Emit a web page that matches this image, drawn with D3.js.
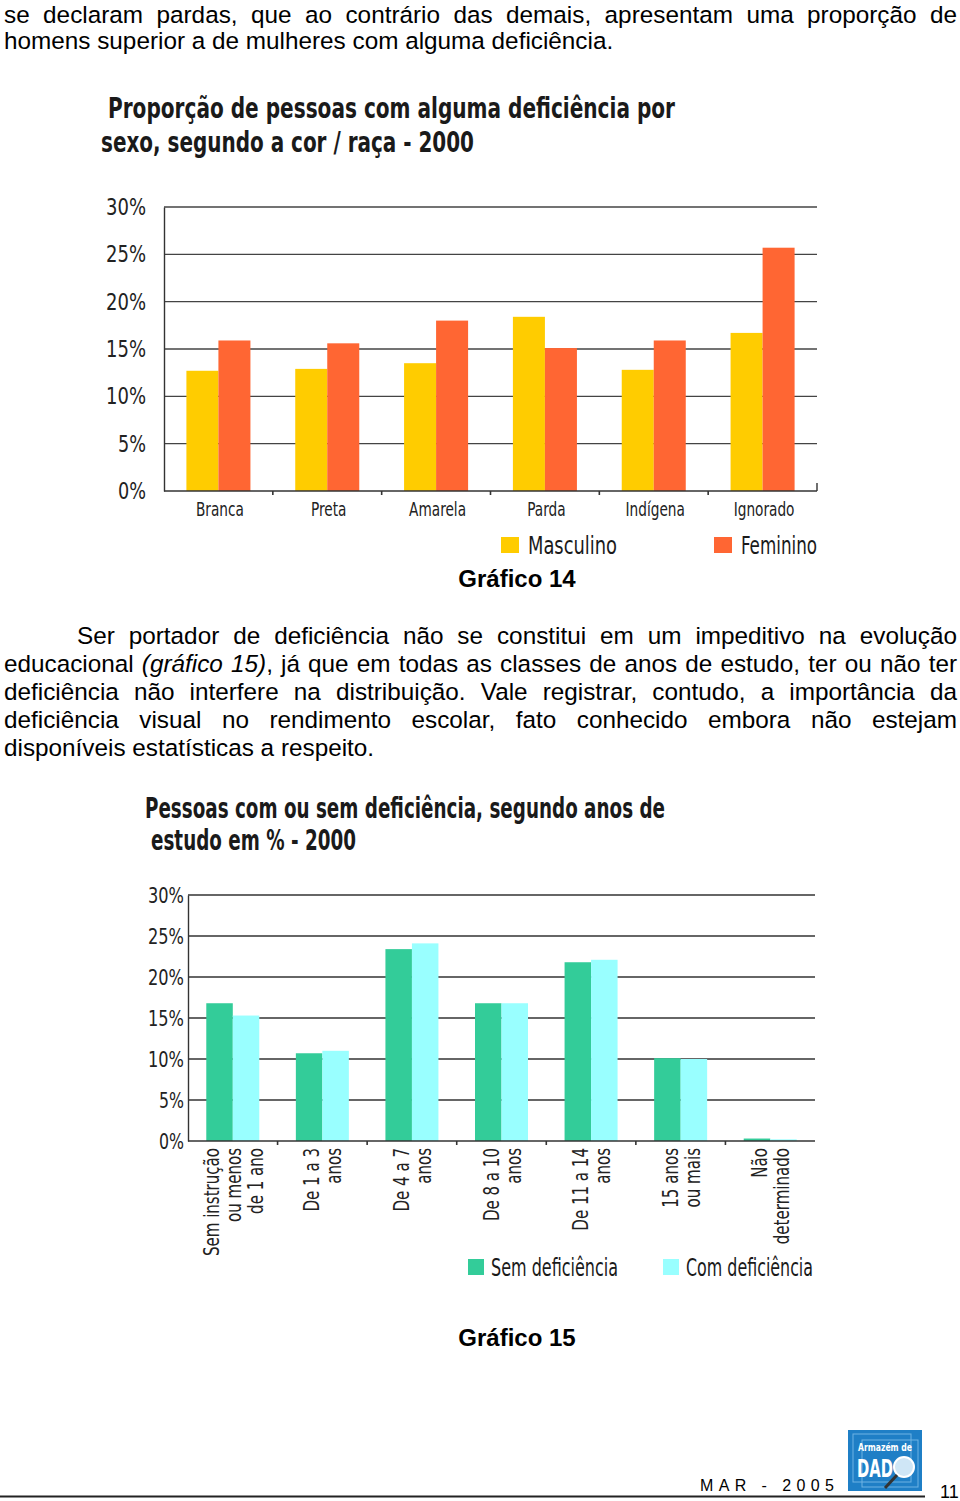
<!DOCTYPE html>
<html><head><meta charset="utf-8">
<script src="https://cdn.jsdelivr.net/npm/d3@7"></script>
<style>
html,body{margin:0;padding:0;background:#fff;}
svg{display:block;}
</style></head>
<body>
<script>
// ---------- DATA ----------
const racas = ["Branca","Preta","Amarela","Parda","Indígena","Ignorado"];
const sexos = ["Masculino","Feminino"];
const masculino = [12.7, 12.9, 13.5, 18.4, 12.8, 16.7];
const feminino  = [15.9, 15.6, 18.0, 15.1, 15.9, 25.7];

const estudo = [
  ["Sem instrução","ou menos","de 1 ano"],
  ["De 1 a 3","anos"],
  ["De 4 a 7","anos"],
  ["De 8 a 10","anos"],
  ["De 11 a 14","anos"],
  ["15 anos","ou mais"],
  ["Não","determinado"]
];
const grupos = ["Sem deficiência","Com deficiência"];
const semDef = [16.8, 10.7, 23.4, 16.8, 21.8, 10.1, 0.3];
const comDef = [15.3, 11.0, 24.1, 16.8, 22.1, 10.0, 0.2];

const yTicks = [0,5,10,15,20,25,30];
const yTickLabels = ["0%","5%","10%","15%","20%","25%","30%"];

// '*' toggles italic
const texto1 = [
  "se declaram pardas, que ao contrário das demais, apresentam uma proporção de",
  "homens superior a de mulheres com alguma deficiência."
];
const texto2 = [
  "Ser portador de deficiência não se constitui em um impeditivo na evolução",
  "educacional *(gráfico 15)*, já que em todas as classes de anos de estudo, ter ou não ter",
  "deficiência não interfere na distribuição. Vale registrar, contudo, a importância da",
  "deficiência visual no rendimento escolar, fato conhecido embora não estejam",
  "disponíveis estatísticas a respeito."
];

// ---------- SETUP ----------
const W = 960, H = 1501;
const svg = d3.select("body").append("svg").attr("width", W).attr("height", H);
const BODY = "'Liberation Sans', Arial, sans-serif";
const NARROW = "'Liberation Sans Narrow', 'DejaVu Sans Condensed', sans-serif";

function condense(sel, f) {
  sel.each(function() {
    const l = this.getComputedTextLength();
    d3.select(this).attr("textLength", l * f).attr("lengthAdjust", "spacingAndGlyphs");
  });
}

let italicState = false;
function justifyLine(str, x0, x1, y, justify, size) {
  const raw = str.split(" ");
  const words = [];
  raw.forEach(w => {
    const parts = w.split("*");
    parts.forEach((p, k) => {
      if (k > 0) italicState = !italicState;
      if (p === "") return;
      const attach = k > 0 && parts.slice(0, k).some(q => q !== "");
      words.push({w: p, italic: italicState, attach});
    });
  });
  const g = svg.append("g");
  const nodes = words.map(d => {
    const t = g.append("text").attr("y", y).attr("font-family", BODY)
      .attr("font-size", size).attr("fill", "#000")
      .attr("font-style", d.italic ? "italic" : "normal").text(d.w);
    return {t, len: t.node().getComputedTextLength(), attach: d.attach};
  });
  let gaps = 0; nodes.forEach((n,i)=>{ if(i>0 && !n.attach) gaps++; });
  const total = d3.sum(nodes, n => n.len);
  const spaceW = size * 0.278;
  const gap = justify ? (x1 - x0 - total) / gaps : spaceW;
  let x = x0;
  nodes.forEach((n,i) => {
    if (i > 0) x += n.attach ? 0 : gap;
    n.t.attr("x", x);
    x += n.len;
  });
}

const FS = 24.3;
justifyLine(texto1[0], 4, 957, 23, true, FS);
justifyLine(texto1[1], 4, 957, 49, false, FS);
texto2.forEach((l, i) => {
  justifyLine(l, i === 0 ? 77 : 4, 957, 644 + i*28, i < texto2.length - 1, FS);
});

// ---------- CHART 1 ----------
{
  const x0 = d3.scaleBand().domain(racas).range([164, 817]);
  const x1 = d3.scaleBand().domain(sexos).range([0, x0.bandwidth()]).paddingOuter(0.7);
  const y = d3.scaleLinear().domain([0, 30]).range([491, 207]);
  const color = d3.scaleOrdinal().domain(sexos).range(["#FFCC00", "#FF6633"]);
  const g = svg.append("g");

  g.append("text").attr("x", 108).attr("y", 118).attr("font-family", NARROW).attr("font-weight", "bold")
    .attr("font-size", 29).attr("fill", "#1a1a1a").attr("textLength", 567).attr("lengthAdjust","spacingAndGlyphs")
    .text("Proporção de pessoas com alguma deficiência por");
  g.append("text").attr("x", 101).attr("y", 152).attr("font-family", NARROW).attr("font-weight", "bold")
    .attr("font-size", 29).attr("fill", "#1a1a1a").attr("textLength", 373).attr("lengthAdjust","spacingAndGlyphs")
    .text("sexo, segundo a cor / raça - 2000");

  g.append("g").selectAll("line").data(yTicks.filter(d => d > 0)).join("line")
    .attr("x1", 164).attr("x2", 817).attr("y1", d => y(d)).attr("y2", d => y(d))
    .attr("stroke", "#444").attr("stroke-width", 1.4);

  const rows = racas.map((r, i) => ({r, vals: [masculino[i], feminino[i]]}));
  g.append("g").selectAll("g").data(rows).join("g")
    .attr("transform", d => `translate(${x0(d.r)},0)`)
    .selectAll("rect").data(d => d.vals.map((v, k) => ({s: sexos[k], v}))).join("rect")
    .attr("x", d => x1(d.s)).attr("width", x1.bandwidth())
    .attr("y", d => y(d.v)).attr("height", d => y(0) - y(d.v))
    .attr("fill", d => color(d.s));

  const yAxis = d3.axisLeft(y).tickValues(yTicks).tickFormat((d,i) => yTickLabels[i]).tickSize(0).tickPadding(18);
  const ya = g.append("g").attr("transform", "translate(164,0)").call(yAxis);
  ya.select(".domain").attr("stroke", "#333").attr("stroke-width", 1.4);
  ya.selectAll("text").attr("font-family", NARROW).attr("font-size", 23).attr("fill", "#222")
    .attr("textLength", function(d){ return d >= 10 ? 40 : 28; }).attr("lengthAdjust","spacingAndGlyphs");

  g.append("line").attr("x1", 164).attr("x2", 817).attr("y1", 491).attr("y2", 491).attr("stroke", "#333").attr("stroke-width", 1.4);
  g.append("line").attr("x1", 817).attr("x2", 817).attr("y1", 483).attr("y2", 491).attr("stroke", "#333").attr("stroke-width", 1.4);
  g.append("g").selectAll("line").data(racas.slice(1)).join("line")
    .attr("x1", d => x0(d)).attr("x2", d => x0(d)).attr("y1", 491).attr("y2", 495)
    .attr("stroke", "#333").attr("stroke-width", 1.6);
  const xl = g.append("g").selectAll("text").data(racas).join("text")
    .attr("x", d => x0(d) + x0.bandwidth()/2 + 1.5).attr("y", 516).attr("text-anchor", "middle")
    .attr("font-family", NARROW).attr("font-size", 19).attr("fill", "#222").text(d => d);
  condense(xl, 0.8);

  const leg = [{s: "Masculino", x: 501, tx: 528, w: 89}, {s: "Feminino", x: 714, tx: 741, w: 76}];
  leg.forEach(l => {
    g.append("rect").attr("x", l.x).attr("y", 537).attr("width", 18).attr("height", 16).attr("fill", color(l.s));
    g.append("text").attr("x", l.tx).attr("y", 554).attr("font-family", NARROW).attr("font-size", 24)
      .attr("fill", "#1a1a1a").attr("textLength", l.w).attr("lengthAdjust","spacingAndGlyphs").text(l.s);
  });

  g.append("text").attr("x", 517).attr("y", 587).attr("text-anchor", "middle").attr("font-family", BODY)
    .attr("font-weight", "bold").attr("font-size", 24).attr("fill", "#000").text("Gráfico 14");
}

// ---------- CHART 2 ----------
{
  const keys = estudo.map(d => d.join(" "));
  const x0 = d3.scaleBand().domain(keys).range([188, 815]);
  const x1 = d3.scaleBand().domain(grupos).range([0, x0.bandwidth()]).paddingOuter(0.69);
  const y = d3.scaleLinear().domain([0, 30]).range([1141, 895]);
  const color = d3.scaleOrdinal().domain(grupos).range(["#33CC99", "#99FFFF"]);
  const g = svg.append("g");

  g.append("text").attr("x", 145).attr("y", 818).attr("font-family", NARROW).attr("font-weight", "bold")
    .attr("font-size", 28).attr("fill", "#1a1a1a").attr("textLength", 520).attr("lengthAdjust","spacingAndGlyphs")
    .text("Pessoas com ou sem deficiência, segundo anos de");
  g.append("text").attr("x", 151).attr("y", 850).attr("font-family", NARROW).attr("font-weight", "bold")
    .attr("font-size", 28).attr("fill", "#1a1a1a").attr("textLength", 205).attr("lengthAdjust","spacingAndGlyphs")
    .text("estudo em % - 2000");

  g.append("g").selectAll("line").data(yTicks.filter(d => d > 0)).join("line")
    .attr("x1", 188).attr("x2", 815).attr("y1", d => y(d)).attr("y2", d => y(d))
    .attr("stroke", "#333").attr("stroke-width", 1.6);

  const rows = keys.map((k, i) => ({k, vals: [semDef[i], comDef[i]]}));
  g.append("g").selectAll("g").data(rows).join("g")
    .attr("transform", d => `translate(${x0(d.k)},0)`)
    .selectAll("rect").data(d => d.vals.map((v, j) => ({s: grupos[j], v}))).join("rect")
    .attr("x", d => x1(d.s)).attr("width", x1.bandwidth())
    .attr("y", d => y(d.v)).attr("height", d => y(0) - y(d.v))
    .attr("fill", d => color(d.s));

  const yAxis = d3.axisLeft(y).tickValues(yTicks).tickFormat((d,i) => yTickLabels[i]).tickSize(0).tickPadding(4);
  const ya = g.append("g").attr("transform", "translate(188,0)").call(yAxis);
  ya.select(".domain").attr("stroke", "#333").attr("stroke-width", 1.4);
  ya.selectAll("text").attr("font-family", NARROW).attr("font-size", 22).attr("fill", "#222")
    .attr("textLength", function(d){ return d >= 10 ? 36 : 25; }).attr("lengthAdjust","spacingAndGlyphs");

  g.append("line").attr("x1", 188).attr("x2", 815).attr("y1", 1141).attr("y2", 1141).attr("stroke", "#333").attr("stroke-width", 1.4);
  g.append("g").selectAll("line").data(keys.slice(1)).join("line")
    .attr("x1", d => x0(d)).attr("x2", d => x0(d)).attr("y1", 1141).attr("y2", 1145)
    .attr("stroke", "#333").attr("stroke-width", 1.6);

  estudo.forEach((lines, i) => {
    const cx = x0(keys[i]) + x0.bandwidth()/2;
    const n = lines.length;
    const t = g.append("text").attr("transform", `translate(${cx},1148) rotate(-90)`)
      .attr("text-anchor", "end").attr("font-family", NARROW).attr("font-size", 22).attr("fill", "#222");
    lines.forEach((ln, j) => {
      t.append("tspan").attr("x", 0).attr("y", (j - (n-1)/2) * 22 + 8).text(ln);
    });
    condense(t.selectAll("tspan"), 0.76);
  });

  const leg = [{s: "Sem deficiência", x: 468, tx: 491, w: 127}, {s: "Com deficiência", x: 663, tx: 686, w: 127}];
  leg.forEach(l => {
    g.append("rect").attr("x", l.x).attr("y", 1259).attr("width", 16).attr("height", 16).attr("fill", color(l.s));
    g.append("text").attr("x", l.tx).attr("y", 1276).attr("font-family", NARROW).attr("font-size", 24)
      .attr("fill", "#1a1a1a").attr("textLength", l.w).attr("lengthAdjust","spacingAndGlyphs").text(l.s);
  });

  g.append("text").attr("x", 517).attr("y", 1346).attr("text-anchor", "middle").attr("font-family", BODY)
    .attr("font-weight", "bold").attr("font-size", 24).attr("fill", "#000").text("Gráfico 15");
}

// ---------- FOOTER ----------
{
  const g = svg.append("g");
  g.append("line").attr("x1", 0).attr("x2", 925).attr("y1", 1496.5).attr("y2", 1496.5).attr("stroke", "#222").attr("stroke-width", 2);
  g.append("text").attr("x", 700).attr("y", 1491).attr("font-family", BODY).attr("font-size", 16)
    .attr("letter-spacing", 5.4).attr("fill", "#000").text("MAR - 2005");
  g.append("text").attr("x", 940).attr("y", 1498).attr("font-family", BODY).attr("font-size", 18)
    .attr("fill", "#000").text("11");
  g.append("rect").attr("x", 848).attr("y", 1430).attr("width", 74).attr("height", 61).attr("fill", "#1f7fc6");
  g.append("rect").attr("x", 853).attr("y", 1434).attr("width", 58).attr("height", 48).attr("fill", "none").attr("stroke", "#6fb3e3").attr("stroke-width", 1);
  g.append("rect").attr("x", 862).attr("y", 1440).attr("width", 56).attr("height", 47).attr("fill", "none").attr("stroke", "#6fb3e3").attr("stroke-width", 1);
  g.append("text").attr("x", 858).attr("y", 1451).attr("font-family", NARROW).attr("font-weight", "bold").attr("font-size", 10)
    .attr("fill", "#fff").attr("textLength", 54).attr("lengthAdjust","spacingAndGlyphs").text("Armazém de");
  g.append("text").attr("x", 857).attr("y", 1477).attr("font-family", NARROW).attr("font-weight", "bold").attr("font-size", 25)
    .attr("fill", "#fff").attr("textLength", 36).attr("lengthAdjust","spacingAndGlyphs").text("DAD");
  g.append("circle").attr("cx", 904).attr("cy", 1467).attr("r", 10).attr("fill", "#cfe6f6").attr("stroke", "#fff").attr("stroke-width", 2);
  g.append("line").attr("x1", 897).attr("y1", 1475).attr("x2", 885).attr("y2", 1488).attr("stroke", "#333").attr("stroke-width", 3);
}
</script>
</body></html>
